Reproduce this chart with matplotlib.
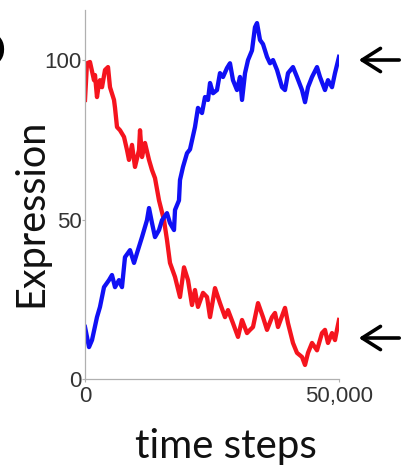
import matplotlib
matplotlib.use("Agg")
import matplotlib.pyplot as plt
from matplotlib.patches import FancyArrowPatch

# Simulated expression of two competing genes over time
red_steps = [0, 390, 980, 1770, 1970, 2360, 2760, 2950, 3350, 3940, 4530, 4920,
             5710, 5910, 6300, 6890, 7680, 8270, 8660, 9250, 9840, 10630, 10830,
             11220, 11810, 12600, 13190, 13780, 14570, 15550, 16140, 16730, 17720,
             18700, 19490, 20280, 21060, 21650, 22240, 23230, 24020, 24610, 25590,
             26570, 27560, 28150, 29130, 30120, 30910, 31890, 32480, 33070, 34060,
             35040, 35830, 36810, 37400, 37990, 39370, 39960, 40940, 41730, 42720,
             43310, 43900, 44690, 45670, 46650, 47240, 47830, 48620, 49210, 49600,
             50000]
red_expr = [87.5, 99, 99.4, 93.7, 95.3, 88.4, 92.8, 93.7, 91.5, 96.9, 97.8, 91.5,
            87.5, 85, 79, 78, 75.9, 71.8, 68.7, 73.4, 66.5, 71.8, 78,
            69.6, 74, 68.7, 65.5, 63, 56, 49.8, 43.6, 36.4, 32,
            25.7, 35, 31, 23.2, 27.9, 22.6, 27, 25.7, 19.4, 28.5,
            23.8, 19.4, 21.6, 17.5, 13.2, 18.5, 14.4, 15.4, 16.3, 23.8,
            19.4, 15.4, 19.4, 20.7, 16.3, 22.3, 17.5, 11.3, 8.2, 6.9,
            4.4, 8.2, 11.3, 9, 14.4, 15.4, 11.3, 14.4, 12.2, 15.4,
            18.5]

blue_steps = [0, 790, 1380, 2360, 2950, 3740, 4720, 5310, 5910, 6690, 7280, 7870,
              8860, 9650, 10240, 11220, 12200, 12600, 13190, 13780, 14570, 15160,
              16140, 16730, 17520, 17720, 18500, 18700, 19290, 20080, 20670, 21650,
              22240, 23030, 23620, 24210, 24610, 25200, 25980, 26570, 27170, 27950,
              28540, 29130, 29920, 30510, 30910, 31500, 32090, 32870, 33460, 33860,
              34450, 35040, 35830, 36420, 37010, 37800, 38780, 39370, 39960, 40940,
              41730, 42720, 43310, 43900, 44690, 45670, 46260, 47240, 47830, 48620,
              49210, 50000]
blue_expr = [16.3, 10, 12.2, 19.4, 22.6, 28.8, 31, 32.6, 28.8, 31, 28.8, 38.2,
             40.4, 36.4, 39.5, 44.5, 49.8, 53.6, 48.9, 44.5, 46.7, 49.8,
             52, 48.9, 46.7, 53, 56, 62.4, 66.5, 70.8, 72, 79,
             85, 83.4, 88.4, 87.5, 92.8, 89.6, 90.6, 95.9, 94.7, 97.5,
             99, 93.7, 90.6, 94.7, 87.5, 95.9, 100, 103, 110.3, 111.6,
             106.3, 105, 101, 99, 100, 96.9, 91.5, 90.6, 95.9, 97.8,
             94.7, 90.6, 86.8, 91.5, 94.7, 97.8, 94.7, 90.6, 93.7, 91.5,
             95.9, 101]

y_ticks = [0, 50, 100]
y_tick_labels = ["0", "50", "100"]
x_ticks = [0, 50000]
x_tick_labels = ["0", "50,000"]

fig = plt.figure(figsize=(4.01, 4.72), dpi=100)
ax = fig.add_axes([85 / 401, 1 - 379 / 472, 254 / 401, 369 / 472])

ax.plot(red_steps, red_expr, color="#f5141e", lw=3.1, solid_joinstyle="round")
ax.plot(blue_steps, blue_expr, color="#1010f5", lw=3.1, solid_joinstyle="round")

ax.set_xlim(0, 50000)
ax.set_ylim(0, 115.7)
ax.set_xticks(x_ticks)
ax.set_xticklabels(x_tick_labels)
ax.set_yticks(y_ticks)
ax.set_yticklabels(y_tick_labels)

for side in ("top", "right"):
    ax.spines[side].set_visible(False)
for side in ("left", "bottom"):
    ax.spines[side].set_color("#b0b0b0")
    ax.spines[side].set_linewidth(0.9)

ax.tick_params(axis="both", colors="#b0b0b0", length=2, width=0.8,
               labelcolor="#333333", labelsize=16)
ax.tick_params(axis="y", pad=0.5)
ax.tick_params(axis="x", pad=3)
for lbl in ax.get_xticklabels() + ax.get_yticklabels():
    lbl.set_family("Liberation Sans")

# Axis titles
fig.text(226 / 401, 1 - 458 / 472, "time steps", ha="center", va="baseline",
         fontsize=29, family="Lato", color="#111111")
fig.text(31 / 401, 1 - 213 / 472, "Expression", ha="center", va="center",
         rotation=90, fontsize=28.5, family="Lato", color="#111111")

# Panel letter
fig.text(-34 / 401, 1 - 63 / 472, "b", ha="left", va="baseline",
         fontsize=40, fontweight="bold", family="DejaVu Sans", color="black")

# Arrows marking the two steady states
for py in (60, 338):
    yy = 1 - py / 472
    fig.add_artist(FancyArrowPatch(
        (402 / 401, yy), (356 / 401, yy), transform=fig.transFigure,
        arrowstyle="->,head_length=0.6,head_width=0.38",
        mutation_scale=22, lw=2.6, color="black"))

fig.savefig("out.png", dpi=100)
